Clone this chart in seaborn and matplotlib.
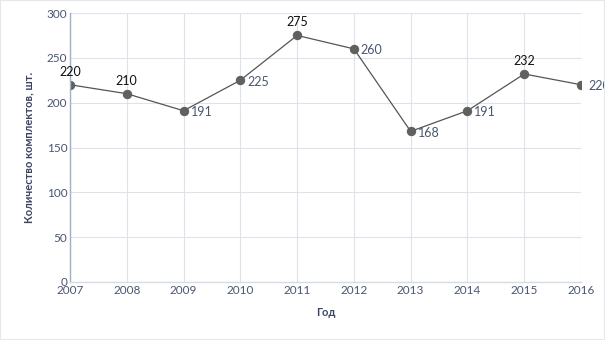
import matplotlib
matplotlib.use("Agg")
import matplotlib.pyplot as plt
import seaborn as sns
import pandas as pd

years = [2007, 2008, 2009, 2010, 2011, 2012, 2013, 2014, 2015, 2016]
counts = [220, 210, 191, 225, 275, 260, 168, 191, 232, 220]
label_above = [True, True, False, False, True, False, False, False, True, False]
yticks = [0, 50, 100, 150, 200, 250, 300]

sns.set_theme(style="whitegrid")
plt.rcParams['font.family'] = ['Lato', 'DejaVu Sans']

df = pd.DataFrame({"year": years, "count": counts})

fig = plt.figure(figsize=(6.05, 3.4), dpi=100)
ax = fig.add_axes([70/605, 1 - 282/340, (581-70)/605, (282-13)/340])

sns.lineplot(data=df, x="year", y="count", ax=ax, color="#555555", linewidth=0.9,
             marker="o", markersize=6, markerfacecolor="#606060",
             markeredgecolor="#606060")

for x, y, above in zip(years, counts, label_above):
    if above:
        ax.annotate(str(y), (x, y), xytext=(0, 5), textcoords="offset points",
                    ha="center", va="bottom", fontsize=9, color="#111111")
    else:
        ax.annotate(str(y), (x, y), xytext=(5, -1), textcoords="offset points",
                    ha="left", va="center", fontsize=9, color="#4a5670",
                    annotation_clip=False)

ax.set_xlim(2007, 2016)
ax.set_ylim(0, 300)
ax.set_xticks(years)
ax.set_yticks(yticks)
ax.tick_params(axis="both", labelsize=8.5, colors="#4a5670", length=0, pad=2)
ax.grid(True, color="#dde3ea", linewidth=0.8)
for s in ["top", "right"]:
    ax.spines[s].set_visible(False)
ax.spines["left"].set_color("#9fb0c8")
ax.spines["left"].set_linewidth(1.0)
ax.spines["bottom"].set_color("#d6dce4")
ax.spines["bottom"].set_linewidth(1.0)

ax.set_xlabel("Год", fontsize=8, fontweight="bold", color="#3a4660", labelpad=8)
ax.set_ylabel("Количество комплектов, шт.", fontsize=8, fontweight="bold",
              color="#3a4660", labelpad=9)

fig.patches.append(plt.Rectangle((0, 0), 1, 1, transform=fig.transFigure,
                                 fill=False, edgecolor="#e4e8ee", linewidth=1.5))

fig.savefig("out.png", dpi=100)
